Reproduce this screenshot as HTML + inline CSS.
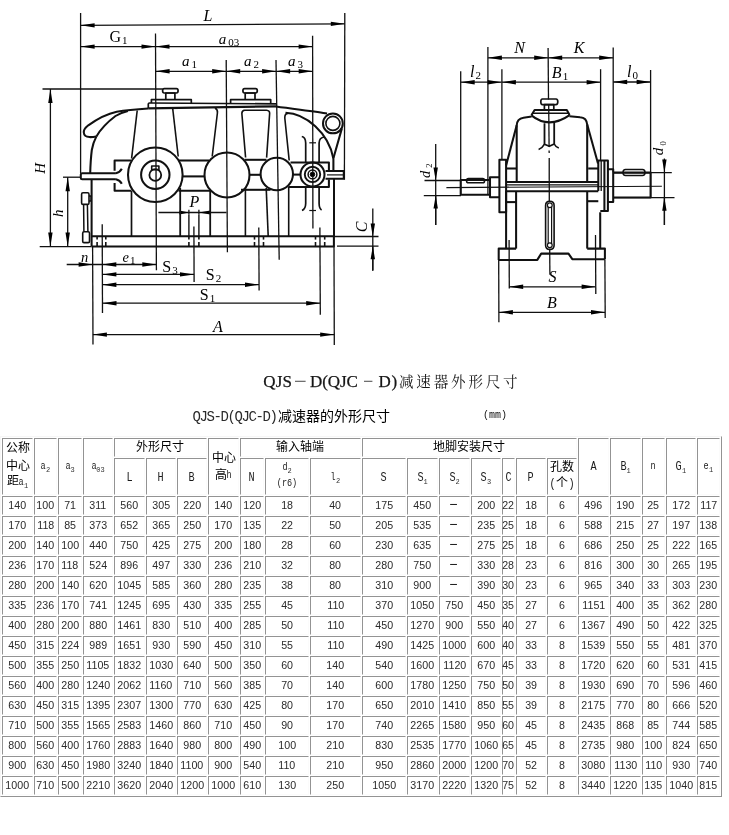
<!DOCTYPE html><html><head><meta charset="utf-8"><title>QJS-D</title><style>
html,body{margin:0;padding:0;background:#fff}
body{width:729px;height:835px;position:relative;overflow:hidden;filter:grayscale(1);font-family:"Liberation Sans",sans-serif;color:#000}
svg{display:block}
.cj{display:inline-block;flex:none}
#dw{position:absolute;left:0;top:0;filter:blur(.35px)}
.tc{position:absolute;left:399.0px;top:373.3px}
.cap{position:absolute;left:192.5px;top:408.5px;display:flex;align-items:baseline;white-space:nowrap;font-family:"Liberation Mono",monospace;font-size:14px;color:#2a2a2a}
.cap i{display:inline-block;width:7px;text-align:center;font-style:normal;overflow:visible}
.cap .cj{margin-left:1px}
.mm{position:absolute;left:483px;top:409.5px;font-family:"Liberation Mono",monospace;font-size:10px;color:#111}
.tb{position:absolute;left:0;top:436px;width:720px;height:359px;border:1px solid #939393;border-top-color:#f6f6f6;border-left-color:#f6f6f6}
.c{position:absolute;border:1px solid #fbfbfb;border-top-color:#939393;border-left-color:#939393;overflow:visible}
.l{position:absolute;left:-10px;right:-10px;height:16px;line-height:16px;display:flex;justify-content:center;align-items:baseline;white-space:nowrap}
.d{font-family:"Liberation Sans",sans-serif;font-size:11px;color:#2a2a2a;display:inline-block;transform:scale(.97,1.04)}
.m{font-family:"Liberation Mono",monospace;font-size:12px;color:#1a1a1a;display:inline-block;transform:scaleX(.85);margin:0 -0.5px}
.lo{font-size:10px}
.sb{font-family:"Liberation Mono",monospace;font-size:7px;color:#333;position:relative;top:3px;letter-spacing:0}
.dash{display:inline-block;width:7px;height:1px;background:#222;vertical-align:4px;margin-right:2.6px}
.cj text{font-family:"Liberation Sans","Noto Sans CJK SC",sans-serif}
.tc .cj text{font-family:"Liberation Serif","Noto Serif CJK SC",serif}
</style></head><body><svg id="dw" width="729" height="360" viewBox="0 0 729 360" fill="none" stroke="#111" stroke-linecap="butt" stroke-linejoin="round"><path d="M80.6 13.0L80.6 173.5" stroke-width="1.3" /><path d="M155.5 33.5L156.4 270.3" stroke-width="1.3" /><path d="M226.2 60.0L227.4 252.2" stroke-width="1.3" /><path d="M276.0 60.0L279.2 259.8" stroke-width="1.3" /><path d="M312.6 35.7L312.9 228.6" stroke-width="1.3" /><path d="M344.8 13.0L344.4 179.8" stroke-width="1.3" /><path d="M80.6 25.3L344.8 23.8" stroke-width="1.3" /><path d="M80.6 25.3L94.6 23.2L94.6 27.6Z" fill="#000" stroke="none"/><path d="M344.8 23.8L330.8 26.1L330.8 21.7Z" fill="#000" stroke="none"/><path d="M80.6 46.6L155.5 46.6" stroke-width="1.3" /><path d="M80.6 46.6L94.6 44.4L94.6 48.8Z" fill="#000" stroke="none"/><path d="M155.5 46.6L141.5 48.8L141.5 44.4Z" fill="#000" stroke="none"/><path d="M155.5 46.6L312.6 46.6" stroke-width="1.3" /><path d="M155.5 46.6L169.5 44.4L169.5 48.8Z" fill="#000" stroke="none"/><path d="M312.6 46.6L298.6 48.8L298.6 44.4Z" fill="#000" stroke="none"/><path d="M155.6 71.3L226.2 71.3" stroke-width="1.3" /><path d="M155.6 71.3L169.6 69.1L169.6 73.5Z" fill="#000" stroke="none"/><path d="M226.2 71.3L212.2 73.5L212.2 69.1Z" fill="#000" stroke="none"/><path d="M226.2 71.3L276.1 71.3" stroke-width="1.3" /><path d="M226.2 71.3L240.2 69.1L240.2 73.5Z" fill="#000" stroke="none"/><path d="M276.1 71.3L262.1 73.5L262.1 69.1Z" fill="#000" stroke="none"/><path d="M276.1 71.3L312.7 71.3" stroke-width="1.3" /><path d="M276.1 71.3L290.1 69.1L290.1 73.5Z" fill="#000" stroke="none"/><path d="M312.7 71.3L298.7 73.5L298.7 69.1Z" fill="#000" stroke="none"/><path d="M42.5 89.0L162.8 89.0" stroke-width="1.3" /><path d="M50.4 89.0L50.4 246.6" stroke-width="1.3" /><path d="M50.4 89.0L52.6 103.0L48.2 103.0Z" fill="#000" stroke="none"/><path d="M50.4 246.6L48.2 232.6L52.6 232.6Z" fill="#000" stroke="none"/><path d="M63.0 177.2L81.0 177.2" stroke-width="1.3" /><path d="M67.7 177.2L67.7 246.6" stroke-width="1.3" /><path d="M67.7 177.2L69.9 191.2L65.5 191.2Z" fill="#000" stroke="none"/><path d="M67.7 246.6L65.5 232.6L69.9 232.6Z" fill="#000" stroke="none"/><path d="M39.7 246.6L91.5 246.6" stroke-width="1.3" /><text x="208.0" y="21.0" text-anchor="middle" font-family="Liberation Serif,serif" font-size="16" font-style="italic" fill="#000" stroke="none">L</text><text x="118.5" y="41.5" text-anchor="middle" font-family="Liberation Serif,serif" font-size="16"  fill="#000" stroke="none">G<tspan font-style="normal" font-size="11" dy="2" dx="1">1</tspan></text><text x="229.0" y="44.0" text-anchor="middle" font-family="Liberation Serif,serif" font-size="15" font-style="italic" fill="#000" stroke="none">a<tspan font-style="normal" font-size="11" dy="2" dx="1.8">03</tspan></text><text x="189.5" y="66.0" text-anchor="middle" font-family="Liberation Serif,serif" font-size="15" font-style="italic" fill="#000" stroke="none">a<tspan font-style="normal" font-size="11" dy="2" dx="1.8">1</tspan></text><text x="251.5" y="66.0" text-anchor="middle" font-family="Liberation Serif,serif" font-size="15" font-style="italic" fill="#000" stroke="none">a<tspan font-style="normal" font-size="11" dy="2" dx="1.8">2</tspan></text><text x="295.5" y="65.5" text-anchor="middle" font-family="Liberation Serif,serif" font-size="15" font-style="italic" fill="#000" stroke="none">a<tspan font-style="normal" font-size="11" dy="2" dx="1.8">3</tspan></text><text x="44.6" y="168.3" text-anchor="middle" font-family="Liberation Serif,serif" font-size="15" font-style="italic" fill="#000" stroke="none" transform="rotate(-90 44.6 168.3)">H</text><text x="62.8" y="213.2" text-anchor="middle" font-family="Liberation Serif,serif" font-size="15" font-style="italic" fill="#000" stroke="none" transform="rotate(-90 62.8 213.2)">h</text><path d="M158.4 212.5L226.5 212.5" stroke-width="1.3" /><path d="M188.9 212.5L179.4 214.6L179.4 210.4Z" fill="#000" stroke="none"/><path d="M198.9 212.5L210.4 210.4L210.4 214.6Z" fill="#000" stroke="none"/><path d="M188.9 209.7L188.9 214.5" stroke-width="1.3" /><path d="M198.9 209.7L198.9 214.5" stroke-width="1.3" /><text x="194.5" y="206.5" text-anchor="middle" font-family="Liberation Serif,serif" font-size="16" font-style="italic" fill="#000" stroke="none">P</text><path d="M92.6 246.6L93.0 344.5" stroke-width="1.3" /><path d="M102.2 224.2L102.5 313.0" stroke-width="1.3" /><path d="M193.9 226.5L194.1 282.0" stroke-width="1.3" /><path d="M258.8 227.4L259.1 290.5" stroke-width="1.3" /><path d="M319.9 227.4L320.3 314.7" stroke-width="1.3" /><path d="M334.0 246.5L334.3 345.0" stroke-width="1.3" /><path d="M66.7 264.5L102.3 264.5" stroke-width="1.3" /><path d="M92.6 264.5L78.6 266.7L78.6 262.3Z" fill="#000" stroke="none"/><path d="M102.3 264.5L156.3 264.5" stroke-width="1.3" /><path d="M102.3 264.5L116.3 262.3L116.3 266.7Z" fill="#000" stroke="none"/><path d="M156.3 264.5L142.3 266.7L142.3 262.3Z" fill="#000" stroke="none"/><path d="M102.4 274.4L194.0 274.4" stroke-width="1.3" /><path d="M102.4 274.4L116.4 272.2L116.4 276.6Z" fill="#000" stroke="none"/><path d="M194.0 274.4L180.0 276.6L180.0 272.2Z" fill="#000" stroke="none"/><path d="M102.4 284.7L259.0 284.7" stroke-width="1.3" /><path d="M102.4 284.7L116.4 282.5L116.4 286.9Z" fill="#000" stroke="none"/><path d="M259.0 284.7L245.0 286.9L245.0 282.5Z" fill="#000" stroke="none"/><path d="M102.5 303.2L320.2 303.2" stroke-width="1.3" /><path d="M102.5 303.2L116.5 301.0L116.5 305.4Z" fill="#000" stroke="none"/><path d="M320.2 303.2L306.2 305.4L306.2 301.0Z" fill="#000" stroke="none"/><path d="M92.9 334.6L334.2 334.6" stroke-width="1.3" /><path d="M92.9 334.6L106.9 332.4L106.9 336.8Z" fill="#000" stroke="none"/><path d="M334.2 334.6L320.2 336.8L320.2 332.4Z" fill="#000" stroke="none"/><text x="84.7" y="261.5" text-anchor="middle" font-family="Liberation Serif,serif" font-size="14.5" font-style="italic" fill="#000" stroke="none">n</text><text x="129.0" y="261.5" text-anchor="middle" font-family="Liberation Serif,serif" font-size="14.5" font-style="italic" fill="#000" stroke="none">e<tspan font-style="normal" font-size="11" dy="2" dx="1">1</tspan></text><text x="170.0" y="271.5" text-anchor="middle" font-family="Liberation Serif,serif" font-size="16"  fill="#000" stroke="none">S<tspan font-style="normal" font-size="11" dy="2" dx="1">3</tspan></text><text x="213.5" y="280.0" text-anchor="middle" font-family="Liberation Serif,serif" font-size="16"  fill="#000" stroke="none">S<tspan font-style="normal" font-size="11" dy="2" dx="1">2</tspan></text><text x="207.5" y="300.0" text-anchor="middle" font-family="Liberation Serif,serif" font-size="16"  fill="#000" stroke="none">S<tspan font-style="normal" font-size="11" dy="2" dx="1">1</tspan></text><text x="218.0" y="331.5" text-anchor="middle" font-family="Liberation Serif,serif" font-size="16" font-style="italic" fill="#000" stroke="none">A</text><path d="M334.0 236.5L378.5 236.5" stroke-width="1.3" /><path d="M337.0 246.2L378.5 246.2" stroke-width="1.3" /><path d="M372.8 208.5L372.8 271.0" stroke-width="1.3" /><path d="M372.8 236.5L370.6 223.5L375.0 223.5Z" fill="#000" stroke="none"/><path d="M372.8 246.2L372.8 270.0" stroke-width="1.3" /><path d="M372.8 246.2L375.0 259.2L370.6 259.2Z" fill="#000" stroke="none"/><text x="366.5" y="227.0" text-anchor="middle" font-family="Liberation Serif,serif" font-size="16" font-style="italic" fill="#000" stroke="none" transform="rotate(-90 366.5 227.0)">C</text><path d="M91.6 236.3H333.9V246.4H91.6" stroke-width="2.05" /><path d="M91.6 179.8V246.4" stroke-width="2.05" /><path d="M97.1 236.5L97.1 239.6" stroke-width="1.6" /><path d="M97.1 242.0L97.1 246.3" stroke-width="1.6" /><path d="M105.8 236.5L105.8 239.6" stroke-width="1.6" /><path d="M105.8 242.0L105.8 246.3" stroke-width="1.6" /><path d="M188.9 236.5L188.9 239.6" stroke-width="1.6" /><path d="M188.9 242.0L188.9 246.3" stroke-width="1.6" /><path d="M198.9 236.5L198.9 239.6" stroke-width="1.6" /><path d="M198.9 242.0L198.9 246.3" stroke-width="1.6" /><path d="M254.5 236.5L254.5 239.6" stroke-width="1.6" /><path d="M254.5 242.0L254.5 246.3" stroke-width="1.6" /><path d="M263.5 236.5L263.5 239.6" stroke-width="1.6" /><path d="M263.5 242.0L263.5 246.3" stroke-width="1.6" /><path d="M315.5 236.5L315.5 239.6" stroke-width="1.6" /><path d="M315.5 242.0L315.5 246.3" stroke-width="1.6" /><path d="M324.7 236.5L324.7 239.6" stroke-width="1.6" /><path d="M324.7 242.0L324.7 246.3" stroke-width="1.6" /><path d="M148.3 108.4C138 109,126 110,116.7 111.7C106 114,95 120.5,88.3 125.3C85.5 127.5,83.6 130,83.8 132.5C84 135.5,86.5 137,89.5 137.1C92 137.2,94.5 136.8,96.4 136.4" stroke-width="2.05" /><path d="M96.4 136.4C99 132,101.5 129,104.4 125.9C108 122,111.5 119,115.5 116C119 113.8,123 112,127.9 110.9" stroke-width="2.05" /><path d="M96.4 136.4C94 141,92.5 146,91.8 150C90.8 158,90.4 166,90.2 173.3" stroke-width="2.05" /><path d="M115.9 173.3H82.2Q80.8 173.3,80.8 174.6V178.0Q80.8 179.3,82.2 179.3H115.9" stroke-width="2.05" /><path d="M115.9 173.3Q120 172.4,121.8 168.8" stroke-width="2.05" /><path d="M115.9 179.3Q120 180.2,121.8 183.8" stroke-width="2.05" /><path d="M131.0 160.5H114.6V170.8M114.6 183V190.8H131.5" stroke-width="2.05" /><path d="M179.0 160.5H209.0" stroke-width="2.05" /><path d="M182.6 176.4H204.5" stroke-width="2.05" /><path d="M178.5 190.8H210.5" stroke-width="2.05" /><path d="M244.5 159.8H266.5" stroke-width="2.05" /><path d="M249.5 174.8H260.5" stroke-width="2.05" /><path d="M241.0 189.8H270.5" stroke-width="2.05" /><path d="M290.5 162.4H328.9V170.6M328.9 179.4V186.9H288.5" stroke-width="2.05" /><path d="M292.8 174.6H301" stroke-width="2.05" /><circle cx="155.3" cy="174.7" r="27.3" stroke-width="2.05" /><circle cx="155.3" cy="174.7" r="14.2" stroke-width="2.05" /><circle cx="155.3" cy="175.0" r="5.9" stroke-width="1.8" /><path d="M151.7 169.8V166H158.9V169.8Z" stroke-width="1.6" /><circle cx="227.0" cy="174.9" r="22.5" stroke-width="2.05" /><circle cx="276.8" cy="174.0" r="16.2" stroke-width="2.05" /><circle cx="312.5" cy="174.4" r="12.0" stroke-width="2.05" /><circle cx="312.5" cy="174.4" r="7.7" stroke-width="1.9" /><circle cx="312.5" cy="174.4" r="4.4" stroke-width="1.5" /><circle cx="312.5" cy="174.4" r="2.3" stroke-width="1" fill="#000"/><path d="M325.5 171H343.8V178.8H325.5" stroke-width="2.05" /><path d="M327.0 174.9L343.8 174.9" stroke-width="1.2" /><path d="M334.0 179V236.3" stroke-width="2.05" /><path d="M148.3 108.4V104Q148.3 103,149.5 103L276.8 103.9" stroke-width="1.7" /><path d="M148.3 108.4L276.8 106.3" stroke-width="2.2" /><path d="M151.4 103V99.7H191.3V103.2" stroke-width="1.7" /><path d="M230.6 103.5V99.7H270.7V103.8" stroke-width="1.7" /><path d="M165.8 99.7V93H174.9V99.7" stroke-width="1.7" /><path d="M164.2 93Q162.6 93,162.6 90.8Q162.6 88.6,164.3 88.6H176.4Q178.1 88.6,178.1 90.8Q178.1 93,176.4 93Z" stroke-width="1.7" /><path d="M245.2 99.7V93H255.0V99.7" stroke-width="1.7" /><path d="M244.5 93Q242.9 93,242.9 90.8Q242.9 88.6,244.6 88.6H255.6Q257.3 88.6,257.3 90.8Q257.3 93,255.6 93Z" stroke-width="1.7" /><path d="M276 106.6C296 109.5,318 111.5,327 113.6" stroke-width="2.05" /><path d="M285.5 112.8C306 113.5,328.5 133,333.3 158.2" stroke-width="2.05" /><circle cx="332.9" cy="123.4" r="9.9" stroke-width="2.05" /><circle cx="332.9" cy="123.4" r="7.0" stroke-width="1.6" /><path d="M341.9 128.4L333.4 158.2V170.8" stroke-width="2.05" /><path d="M137.2 110.5L131.6 158.5" stroke-width="1.6" /><path d="M172.7 108.5L178.2 156.5" stroke-width="1.6" /><path d="M212.2 156.5L217.4 113Q218 109.6,215 108.0" stroke-width="1.6" /><path d="M245.6 157.5L241.9 114Q241.6 110.6,244.6 110.3L266.5 110.3Q270 110.5,269.6 114L266.6 157.6" stroke-width="1.6" /><path d="M289.2 160.5L284.8 118Q284.6 113.6,288 113.4" stroke-width="1.6" /><path d="M131.5 191V236.3" stroke-width="1.7" /><path d="M180.2 188V236.3" stroke-width="1.8" /><path d="M210.2 190.8V236.3" stroke-width="1.8" /><path d="M188.9 214.5L188.9 236.3" stroke-width="1.4" /><path d="M198.9 214.5L198.9 236.3" stroke-width="1.4" /><path d="M245.4 188V236.3" stroke-width="1.6" /><path d="M266.2 188L268.2 236.3" stroke-width="1.6" /><path d="M288.7 186.8V236.3" stroke-width="1.6" /><path d="M301.8 136.5Q305.6 137.3,305.7 143V162M305.7 187.2V203.5Q305.6 209,302 210.5" stroke-width="1.7" /><path d="M324.4 137.0Q319.2 137.6,319.1 143V162M319.1 187.2V203.5Q319.2 208.6,321.6 209.9" stroke-width="1.7" /><path d="M309.3 142.8L316.0 142.8" stroke-width="1.2" /><path d="M309.3 210.5L316.0 210.5" stroke-width="1.2" /><path d="M83.0 192.8H87.6Q89 192.8,89 194.2V203Q89 204.4,87.6 204.4H83Q81.6 204.4,81.6 203V194.2Q81.6 192.8,83 192.8Z" stroke-width="1.6" /><path d="M89 196H91V201H89" stroke-width="1.4" /><path d="M83.6 204.4L83.9 231.8M87.4 204.4L87.9 231.8" stroke-width="1.5" /><path d="M84.0 231.8H88.2Q89.5 231.8,89.5 233.2V241.2Q89.5 242.6,88.2 242.6H84Q82.7 242.6,82.7 241.2V233.2Q82.7 231.8,84 231.8Z" stroke-width="1.6" /><path d="M487.9 47.0L487.9 194.8" stroke-width="1.3" /><path d="M548.1 48.0L548.5 99.5" stroke-width="1.3" /><path d="M548.7 105.0L549.1 147.0" stroke-width="1.3" /><path d="M549.1 150.5L549.2 153.0" stroke-width="1.3" /><path d="M549.2 158.0L549.3 201.2" stroke-width="1.3" /><path d="M549.7 249.4L549.9 274.8" stroke-width="1.3" /><path d="M613.2 47.5L613.2 172.3" stroke-width="1.3" /><path d="M487.9 57.8L548.2 57.8" stroke-width="1.3" /><path d="M487.9 57.8L501.9 55.6L501.9 60.0Z" fill="#000" stroke="none"/><path d="M548.2 57.8L534.2 60.0L534.2 55.6Z" fill="#000" stroke="none"/><path d="M548.2 57.8L613.2 57.8" stroke-width="1.3" /><path d="M548.2 57.8L562.2 55.6L562.2 60.0Z" fill="#000" stroke="none"/><path d="M613.2 57.8L599.2 60.0L599.2 55.6Z" fill="#000" stroke="none"/><path d="M460.7 71.2L460.7 194.8" stroke-width="1.3" /><path d="M501.9 69.2L501.9 160.0" stroke-width="1.3" /><path d="M600.6 69.2L600.6 160.3" stroke-width="1.3" /><path d="M650.6 70.0L650.6 197.3" stroke-width="1.3" /><path d="M460.7 82.2L501.6 82.2" stroke-width="1.3" /><path d="M460.7 82.2L474.7 80.0L474.7 84.4Z" fill="#000" stroke="none"/><path d="M501.6 82.2L487.6 84.4L487.6 80.0Z" fill="#000" stroke="none"/><path d="M501.9 82.2L600.6 82.2" stroke-width="1.3" /><path d="M501.9 82.2L515.9 80.0L515.9 84.4Z" fill="#000" stroke="none"/><path d="M600.6 82.2L586.6 84.4L586.6 80.0Z" fill="#000" stroke="none"/><path d="M613.2 82.0L650.6 82.0" stroke-width="1.3" /><path d="M613.2 82.0L627.2 79.8L627.2 84.2Z" fill="#000" stroke="none"/><path d="M650.6 82.0L636.6 84.2L636.6 79.8Z" fill="#000" stroke="none"/><text x="519.5" y="52.5" text-anchor="middle" font-family="Liberation Serif,serif" font-size="16" font-style="italic" fill="#000" stroke="none">N</text><text x="579.0" y="52.5" text-anchor="middle" font-family="Liberation Serif,serif" font-size="16" font-style="italic" fill="#000" stroke="none">K</text><text x="475.5" y="77.0" text-anchor="middle" font-family="Liberation Serif,serif" font-size="16" font-style="italic" fill="#000" stroke="none">l<tspan font-style="normal" font-size="11" dy="2" dx="1">2</tspan></text><text x="560.0" y="77.5" text-anchor="middle" font-family="Liberation Serif,serif" font-size="16" font-style="italic" fill="#000" stroke="none">B<tspan font-style="normal" font-size="11" dy="2" dx="1">1</tspan></text><text x="632.5" y="77.0" text-anchor="middle" font-family="Liberation Serif,serif" font-size="16" font-style="italic" fill="#000" stroke="none">l<tspan font-style="normal" font-size="11" dy="2" dx="1">0</tspan></text><path d="M424.5 180.5L461.0 180.5" stroke-width="1.3" /><path d="M423.8 195.6L461.0 195.6" stroke-width="1.3" /><path d="M435.7 144.0L435.7 225.0" stroke-width="1.3" /><path d="M435.7 180.5L433.5 167.5L437.9 167.5Z" fill="#000" stroke="none"/><path d="M435.7 195.6L435.7 225.0" stroke-width="1.3" /><path d="M435.7 195.6L437.9 208.6L433.5 208.6Z" fill="#000" stroke="none"/><text x="429.8" y="174.3" text-anchor="middle" font-family="Liberation Serif,serif" font-size="14.5" font-style="italic" fill="#000" stroke="none" transform="rotate(-90 429.8 174.3)">d</text><text x="432.4" y="165.5" text-anchor="middle" font-family="Liberation Serif,serif" font-size="8.5"  fill="#000" stroke="none" transform="rotate(-90 432.4 165.5)">2</text><path d="M613.2 172.6L671.8 172.6" stroke-width="1.3" /><path d="M613.2 197.7L674.5 197.7" stroke-width="1.3" /><path d="M664.4 158.5L664.4 225.0" stroke-width="1.3" /><path d="M664.4 172.6L662.2 159.6L666.6 159.6Z" fill="#000" stroke="none"/><path d="M664.4 197.7L664.4 225.0" stroke-width="1.3" /><path d="M664.4 197.7L666.6 210.7L662.2 210.7Z" fill="#000" stroke="none"/><text x="663.2" y="151.6" text-anchor="middle" font-family="Liberation Serif,serif" font-size="15" font-style="italic" fill="#000" stroke="none" transform="rotate(-90 663.2 151.6)">d</text><text x="665.8" y="143.3" text-anchor="middle" font-family="Liberation Serif,serif" font-size="8.5"  fill="#000" stroke="none" transform="rotate(-90 665.8 143.3)">0</text><path d="M498.7 259.9L498.9 322.3" stroke-width="1.3" /><path d="M604.9 259.9L605.2 318.0" stroke-width="1.3" /><path d="M509.1 239.9L509.3 288.6" stroke-width="1.3" /><path d="M595.5 234.9L595.8 294.0" stroke-width="1.3" /><path d="M509.2 286.8L595.6 286.8" stroke-width="1.3" /><path d="M509.2 286.8L523.2 284.6L523.2 289.0Z" fill="#000" stroke="none"/><path d="M595.6 286.8L581.6 289.0L581.6 284.6Z" fill="#000" stroke="none"/><path d="M498.9 312.3L605.0 312.3" stroke-width="1.3" /><path d="M498.9 312.3L512.9 310.1L512.9 314.5Z" fill="#000" stroke="none"/><path d="M605.0 312.3L591.0 314.5L591.0 310.1Z" fill="#000" stroke="none"/><text x="552.5" y="282.0" text-anchor="middle" font-family="Liberation Serif,serif" font-size="16" font-style="italic" fill="#000" stroke="none">S</text><text x="552.0" y="308.0" text-anchor="middle" font-family="Liberation Serif,serif" font-size="16" font-style="italic" fill="#000" stroke="none">B</text><path d="M446.4 187.6L661.9 186.2" stroke-width="1.1" /><path d="M490 180H460.7V194.8H490" stroke-width="2.05" /><path d="M468.5 178.6H482.6Q484.6 178.6,484.6 180.7Q484.6 182.8,482.6 182.8H468.5Q466.5 182.8,466.5 180.7Q466.5 178.6,468.5 178.6Z" stroke-width="1.5" /><path d="M499.4 177.3H490V197.3H499.4" stroke-width="2.05" /><path d="M499.4 159.8H506.1V212.3H499.4Z" stroke-width="2.05" /><path d="M613.2 172.6H650.6V197.5H613.2" stroke-width="2.05" /><path d="M625.5 169.4H642.5Q645 169.4,645 172.4Q645 175.4,642.5 175.4H625.5Q623 175.4,623 172.4Q623 169.4,625.5 169.4Z" stroke-width="1.5" /><path d="M607.9 169.2H613.2V202.0H607.9" stroke-width="2.05" /><path d="M598.3 191V160.4H607.9V210.9H600.3" stroke-width="2.05" /><path d="M604.4 160.4V210.9" stroke-width="2.05" /><path d="M601.2 160.4L601.2 191.0" stroke-width="1.3" /><path d="M506.1 165.5L516.7 125.2" stroke-width="2.05" /><path d="M598.0 163.5L587.2 124.6" stroke-width="2.05" /><path d="M516.7 182V125.5Q516.9 118.6,523.5 117.7L531.6 116.6" stroke-width="2.05" /><path d="M587.2 182V124.8Q586.8 117.6,580 117.2L569.5 116.2" stroke-width="2.05" /><path d="M506.1 168.5H516.7" stroke-width="2.05" /><path d="M598.3 168.5H588.2" stroke-width="2.05" /><path d="M531.4 115.2L534.6 110H566.8L569.6 115" stroke-width="2.05" /><path d="M532.5 113.3L568.8 113.3" stroke-width="1.4" /><path d="M531.4 115.4Q549 129.5,569.6 115.2" stroke-width="2.05" /><path d="M544.4 110V104.6H553.8V110" stroke-width="1.7" /><path d="M542.4 104.6Q540.8 104.6,540.8 101.8Q540.8 99.0,542.4 99.0H556.0Q557.8 99.0,557.8 101.8Q557.8 104.6,556.0 104.6Z" stroke-width="1.7" /><path d="M544.5 123.3V144.2L549.3 146.3L554.2 144V122.6" stroke-width="1.8" /><path d="M544.5 144.2Q542.5 148,538.6 149.4" stroke-width="1.6" /><path d="M554.2 144Q555.5 146.8,558.8 147.9" stroke-width="1.6" /><path d="M506.1 181.9H598.3" stroke-width="2.05" /><path d="M506.1 191.2H598.3" stroke-width="2.05" /><path d="M506.1 184.9L598.3 184.9" stroke-width="1.2" /><path d="M506.1 191.2V248.6" stroke-width="2.05" /><path d="M516.1 191.2V248.6" stroke-width="2.05" /><path d="M587.2 191.2V248.6" stroke-width="2.05" /><path d="M600.2 212.3V248.6" stroke-width="2.05" /><path d="M587.2 201.2H598.3" stroke-width="2.05" /><path d="M506.1 202.1H516.1" stroke-width="2.05" /><path d="M498.7 259.9V248.6H516.1" stroke-width="2.05" /><path d="M587.2 248.6H604.9V259.5" stroke-width="2.05" /><path d="M498.7 259.9H537.3L541.2 253.6H568.5L572.3 259.2H604.9" stroke-width="2.05" /><path d="M545.6 205.5Q545.6 201.2,549.8 201.2Q554.1 201.2,554.1 205.5V245.2Q554.1 249.4,549.8 249.4Q545.6 249.4,545.6 245.2Z" stroke-width="1.6" /><path d="M548.2 207.0L548.2 243.5" stroke-width="1.2" /><path d="M551.6 207.0L551.6 243.5" stroke-width="1.2" /><circle cx="549.8" cy="205.3" r="2.4" stroke-width="1.2" /><circle cx="549.8" cy="245.2" r="2.4" stroke-width="1.2" /></svg><svg class="title" width="729" height="30" viewBox="0 366 729 30" style="position:absolute;left:0;top:366px;overflow:visible" font-family="Liberation Serif,serif" font-size="17" fill="#161616" stroke="#161616" stroke-width="0.25"><text x="263.2" y="386.6" textLength="28.8" lengthAdjust="spacing">QJS</text><text x="310.1" y="386.6" textLength="47.8" lengthAdjust="spacing">D(QJC</text><text x="378.5" y="386.6" textLength="18.6" lengthAdjust="spacing">D)</text><path d="M295 381.3H305.6" stroke="#555" stroke-width="1.1" fill="none"/><path d="M364 381.3H372.4" stroke="#555" stroke-width="1.1" fill="none"/></svg><div class="tc"><svg class="cj" width="118.70" height="12.85" fill="#161616" style="overflow:visible;"><text x="0" y="12.85" font-size="14.6" letter-spacing="2.75">减速器外形尺寸</text></svg></div><div class="cap"><span class="cm"><i>Q</i><i>J</i><i>S</i><i>-</i><i>D</i><i>(</i><i>Q</i><i>J</i><i>C</i><i>-</i><i>D</i><i>)</i></span><svg class="cj" width="112.00" height="12.32" fill="#000" style="overflow:visible;"><text x="0" y="12.32" font-size="14">减速器的外形尺寸</text></svg></div><div class="mm">(mm)</div><div class="tb"></div><div class="c" style="left:2px;top:438px;width:29px;height:55px"><div class="l" style="top:1.5px"><svg class="cj" width="24.00" height="10.56" fill="#000" style="overflow:visible;"><text x="0" y="10.56" font-size="12">公称</text></svg></div><div class="l" style="top:19.7px"><svg class="cj" width="24.00" height="10.56" fill="#000" style="overflow:visible;"><text x="0" y="10.56" font-size="12">中心</text></svg></div><div class="l" style="top:35.0px"><svg class="cj" width="12.00" height="10.56" fill="#000" style="overflow:visible;"><text x="0" y="10.56" font-size="12">距</text></svg><span class="m lo">a</span><span class="sb">1</span></div></div><div class="c" style="left:34px;top:438px;width:21px;height:55px"><div class="l" style="top:20.0px"><span class="m lo">a</span><span class="sb">2</span></div></div><div class="c" style="left:58px;top:438px;width:22px;height:55px"><div class="l" style="top:20.0px"><span class="m lo">a</span><span class="sb">3</span></div></div><div class="c" style="left:83px;top:438px;width:28px;height:55px"><div class="l" style="top:20.0px"><span class="m lo">a</span><span class="sb">03</span></div></div><div class="c" style="left:114px;top:438px;width:91px;height:17px"><div class="l" style="top:1.0px"><svg class="cj" width="48.00" height="10.56" fill="#000" style="overflow:visible;margin-right:2px"><text x="0" y="10.56" font-size="12">外形尺寸</text></svg></div></div><div class="c" style="left:114px;top:458px;width:29px;height:35px"><div class="l" style="top:11.0px"><span class="m">L</span></div></div><div class="c" style="left:146px;top:458px;width:28px;height:35px"><div class="l" style="top:11.0px"><span class="m">H</span></div></div><div class="c" style="left:177px;top:458px;width:28px;height:35px"><div class="l" style="top:11.0px"><span class="m">B</span></div></div><div class="c" style="left:208px;top:438px;width:29px;height:55px"><div class="l" style="top:11.5px"><svg class="cj" width="24.00" height="10.56" fill="#000" style="overflow:visible;"><text x="0" y="10.56" font-size="12">中心</text></svg></div><div class="l" style="top:28.5px"><svg class="cj" width="12.00" height="10.56" fill="#000" style="overflow:visible;"><text x="0" y="10.56" font-size="12">高</text></svg><span class="m lo">h</span></div></div><div class="c" style="left:240px;top:438px;width:119px;height:17px"><div class="l" style="top:1.0px"><svg class="cj" width="48.00" height="10.56" fill="#000" style="overflow:visible;margin-right:2px"><text x="0" y="10.56" font-size="12">输入轴端</text></svg></div></div><div class="c" style="left:240px;top:458px;width:22px;height:35px"><div class="l" style="top:11.0px"><span class="m">N</span></div></div><div class="c" style="left:265px;top:458px;width:42px;height:35px"><div class="l" style="top:1.0px"><span class="m lo">d</span><span class="sb">2</span></div><div class="l" style="top:16.5px"><span class="m lo">(r6)</span></div></div><div class="c" style="left:310px;top:458px;width:49px;height:35px"><div class="l" style="top:11.0px"><span class="m lo">l</span><span class="sb">2</span></div></div><div class="c" style="left:362px;top:438px;width:213px;height:17px"><div class="l" style="top:1.0px"><svg class="cj" width="72.00" height="10.56" fill="#000" style="overflow:visible;margin-right:2px"><text x="0" y="10.56" font-size="12">地脚安装尺寸</text></svg></div></div><div class="c" style="left:362px;top:458px;width:42px;height:35px"><div class="l" style="top:11.0px"><span class="m">S</span></div></div><div class="c" style="left:407px;top:458px;width:29px;height:35px"><div class="l" style="top:11.0px"><span class="m">S</span><span class="sb">1</span></div></div><div class="c" style="left:439px;top:458px;width:29px;height:35px"><div class="l" style="top:11.0px"><span class="m">S</span><span class="sb">2</span></div></div><div class="c" style="left:471px;top:458px;width:28px;height:35px"><div class="l" style="top:11.0px"><span class="m">S</span><span class="sb">3</span></div></div><div class="c" style="left:502px;top:458px;width:11px;height:35px"><div class="l" style="top:11.0px"><span class="m">C</span></div></div><div class="c" style="left:516px;top:458px;width:28px;height:35px"><div class="l" style="top:11.0px"><span class="m">P</span></div></div><div class="c" style="left:547px;top:458px;width:28px;height:35px"><div class="l" style="top:0.5px"><svg class="cj" width="24.00" height="10.56" fill="#000" style="overflow:visible;"><text x="0" y="10.56" font-size="12">孔数</text></svg></div><div class="l" style="top:16.5px"><span class="m">(</span><svg class="cj" width="12.00" height="10.56" fill="#000" style="overflow:visible;"><text x="0" y="10.56" font-size="12">个</text></svg><span class="m">)</span></div></div><div class="c" style="left:578px;top:438px;width:29px;height:55px"><div class="l" style="top:20.0px"><span class="m">A</span></div></div><div class="c" style="left:610px;top:438px;width:29px;height:55px"><div class="l" style="top:20.0px"><span class="m">B</span><span class="sb">1</span></div></div><div class="c" style="left:642px;top:438px;width:21px;height:55px"><div class="l" style="top:20.0px"><span class="m lo">n</span></div></div><div class="c" style="left:666px;top:438px;width:28px;height:55px"><div class="l" style="top:20.0px"><span class="m">G</span><span class="sb">1</span></div></div><div class="c" style="left:697px;top:438px;width:21px;height:55px"><div class="l" style="top:20.0px"><span class="m lo">e</span><span class="sb">1</span></div></div><div class="c" style="left:2px;top:496px;width:29px;height:17px"><div class="l" style="top:0.0px"><span class="d">140</span></div></div><div class="c" style="left:34px;top:496px;width:21px;height:17px"><div class="l" style="top:0.0px"><span class="d">100</span></div></div><div class="c" style="left:58px;top:496px;width:22px;height:17px"><div class="l" style="top:0.0px"><span class="d">71</span></div></div><div class="c" style="left:83px;top:496px;width:28px;height:17px"><div class="l" style="top:0.0px"><span class="d">311</span></div></div><div class="c" style="left:114px;top:496px;width:29px;height:17px"><div class="l" style="top:0.0px"><span class="d">560</span></div></div><div class="c" style="left:146px;top:496px;width:28px;height:17px"><div class="l" style="top:0.0px"><span class="d">305</span></div></div><div class="c" style="left:177px;top:496px;width:28px;height:17px"><div class="l" style="top:0.0px"><span class="d">220</span></div></div><div class="c" style="left:208px;top:496px;width:29px;height:17px"><div class="l" style="top:0.0px"><span class="d">140</span></div></div><div class="c" style="left:240px;top:496px;width:22px;height:17px"><div class="l" style="top:0.0px"><span class="d">120</span></div></div><div class="c" style="left:265px;top:496px;width:42px;height:17px"><div class="l" style="top:0.0px"><span class="d">18</span></div></div><div class="c" style="left:310px;top:496px;width:49px;height:17px"><div class="l" style="top:0.0px"><span class="d">40</span></div></div><div class="c" style="left:362px;top:496px;width:42px;height:17px"><div class="l" style="top:0.0px"><span class="d">175</span></div></div><div class="c" style="left:407px;top:496px;width:29px;height:17px"><div class="l" style="top:0.0px"><span class="d">450</span></div></div><div class="c" style="left:439px;top:496px;width:29px;height:17px"><div class="l" style="top:0.0px"><span class="d"><span class="dash"></span></span></div></div><div class="c" style="left:471px;top:496px;width:28px;height:17px"><div class="l" style="top:0.0px"><span class="d">200</span></div></div><div class="c" style="left:502px;top:496px;width:11px;height:17px"><div class="l" style="top:0.0px"><span class="d">22</span></div></div><div class="c" style="left:516px;top:496px;width:28px;height:17px"><div class="l" style="top:0.0px"><span class="d">18</span></div></div><div class="c" style="left:547px;top:496px;width:28px;height:17px"><div class="l" style="top:0.0px"><span class="d">6</span></div></div><div class="c" style="left:578px;top:496px;width:29px;height:17px"><div class="l" style="top:0.0px"><span class="d">496</span></div></div><div class="c" style="left:610px;top:496px;width:29px;height:17px"><div class="l" style="top:0.0px"><span class="d">190</span></div></div><div class="c" style="left:642px;top:496px;width:21px;height:17px"><div class="l" style="top:0.0px"><span class="d">25</span></div></div><div class="c" style="left:666px;top:496px;width:28px;height:17px"><div class="l" style="top:0.0px"><span class="d">172</span></div></div><div class="c" style="left:697px;top:496px;width:21px;height:17px"><div class="l" style="top:0.0px"><span class="d">117</span></div></div><div class="c" style="left:2px;top:516px;width:29px;height:17px"><div class="l" style="top:0.0px"><span class="d">170</span></div></div><div class="c" style="left:34px;top:516px;width:21px;height:17px"><div class="l" style="top:0.0px"><span class="d">118</span></div></div><div class="c" style="left:58px;top:516px;width:22px;height:17px"><div class="l" style="top:0.0px"><span class="d">85</span></div></div><div class="c" style="left:83px;top:516px;width:28px;height:17px"><div class="l" style="top:0.0px"><span class="d">373</span></div></div><div class="c" style="left:114px;top:516px;width:29px;height:17px"><div class="l" style="top:0.0px"><span class="d">652</span></div></div><div class="c" style="left:146px;top:516px;width:28px;height:17px"><div class="l" style="top:0.0px"><span class="d">365</span></div></div><div class="c" style="left:177px;top:516px;width:28px;height:17px"><div class="l" style="top:0.0px"><span class="d">250</span></div></div><div class="c" style="left:208px;top:516px;width:29px;height:17px"><div class="l" style="top:0.0px"><span class="d">170</span></div></div><div class="c" style="left:240px;top:516px;width:22px;height:17px"><div class="l" style="top:0.0px"><span class="d">135</span></div></div><div class="c" style="left:265px;top:516px;width:42px;height:17px"><div class="l" style="top:0.0px"><span class="d">22</span></div></div><div class="c" style="left:310px;top:516px;width:49px;height:17px"><div class="l" style="top:0.0px"><span class="d">50</span></div></div><div class="c" style="left:362px;top:516px;width:42px;height:17px"><div class="l" style="top:0.0px"><span class="d">205</span></div></div><div class="c" style="left:407px;top:516px;width:29px;height:17px"><div class="l" style="top:0.0px"><span class="d">535</span></div></div><div class="c" style="left:439px;top:516px;width:29px;height:17px"><div class="l" style="top:0.0px"><span class="d"><span class="dash"></span></span></div></div><div class="c" style="left:471px;top:516px;width:28px;height:17px"><div class="l" style="top:0.0px"><span class="d">235</span></div></div><div class="c" style="left:502px;top:516px;width:11px;height:17px"><div class="l" style="top:0.0px"><span class="d">25</span></div></div><div class="c" style="left:516px;top:516px;width:28px;height:17px"><div class="l" style="top:0.0px"><span class="d">18</span></div></div><div class="c" style="left:547px;top:516px;width:28px;height:17px"><div class="l" style="top:0.0px"><span class="d">6</span></div></div><div class="c" style="left:578px;top:516px;width:29px;height:17px"><div class="l" style="top:0.0px"><span class="d">588</span></div></div><div class="c" style="left:610px;top:516px;width:29px;height:17px"><div class="l" style="top:0.0px"><span class="d">215</span></div></div><div class="c" style="left:642px;top:516px;width:21px;height:17px"><div class="l" style="top:0.0px"><span class="d">27</span></div></div><div class="c" style="left:666px;top:516px;width:28px;height:17px"><div class="l" style="top:0.0px"><span class="d">197</span></div></div><div class="c" style="left:697px;top:516px;width:21px;height:17px"><div class="l" style="top:0.0px"><span class="d">138</span></div></div><div class="c" style="left:2px;top:536px;width:29px;height:17px"><div class="l" style="top:0.0px"><span class="d">200</span></div></div><div class="c" style="left:34px;top:536px;width:21px;height:17px"><div class="l" style="top:0.0px"><span class="d">140</span></div></div><div class="c" style="left:58px;top:536px;width:22px;height:17px"><div class="l" style="top:0.0px"><span class="d">100</span></div></div><div class="c" style="left:83px;top:536px;width:28px;height:17px"><div class="l" style="top:0.0px"><span class="d">440</span></div></div><div class="c" style="left:114px;top:536px;width:29px;height:17px"><div class="l" style="top:0.0px"><span class="d">750</span></div></div><div class="c" style="left:146px;top:536px;width:28px;height:17px"><div class="l" style="top:0.0px"><span class="d">425</span></div></div><div class="c" style="left:177px;top:536px;width:28px;height:17px"><div class="l" style="top:0.0px"><span class="d">275</span></div></div><div class="c" style="left:208px;top:536px;width:29px;height:17px"><div class="l" style="top:0.0px"><span class="d">200</span></div></div><div class="c" style="left:240px;top:536px;width:22px;height:17px"><div class="l" style="top:0.0px"><span class="d">180</span></div></div><div class="c" style="left:265px;top:536px;width:42px;height:17px"><div class="l" style="top:0.0px"><span class="d">28</span></div></div><div class="c" style="left:310px;top:536px;width:49px;height:17px"><div class="l" style="top:0.0px"><span class="d">60</span></div></div><div class="c" style="left:362px;top:536px;width:42px;height:17px"><div class="l" style="top:0.0px"><span class="d">230</span></div></div><div class="c" style="left:407px;top:536px;width:29px;height:17px"><div class="l" style="top:0.0px"><span class="d">635</span></div></div><div class="c" style="left:439px;top:536px;width:29px;height:17px"><div class="l" style="top:0.0px"><span class="d"><span class="dash"></span></span></div></div><div class="c" style="left:471px;top:536px;width:28px;height:17px"><div class="l" style="top:0.0px"><span class="d">275</span></div></div><div class="c" style="left:502px;top:536px;width:11px;height:17px"><div class="l" style="top:0.0px"><span class="d">25</span></div></div><div class="c" style="left:516px;top:536px;width:28px;height:17px"><div class="l" style="top:0.0px"><span class="d">18</span></div></div><div class="c" style="left:547px;top:536px;width:28px;height:17px"><div class="l" style="top:0.0px"><span class="d">6</span></div></div><div class="c" style="left:578px;top:536px;width:29px;height:17px"><div class="l" style="top:0.0px"><span class="d">686</span></div></div><div class="c" style="left:610px;top:536px;width:29px;height:17px"><div class="l" style="top:0.0px"><span class="d">250</span></div></div><div class="c" style="left:642px;top:536px;width:21px;height:17px"><div class="l" style="top:0.0px"><span class="d">25</span></div></div><div class="c" style="left:666px;top:536px;width:28px;height:17px"><div class="l" style="top:0.0px"><span class="d">222</span></div></div><div class="c" style="left:697px;top:536px;width:21px;height:17px"><div class="l" style="top:0.0px"><span class="d">165</span></div></div><div class="c" style="left:2px;top:556px;width:29px;height:17px"><div class="l" style="top:0.0px"><span class="d">236</span></div></div><div class="c" style="left:34px;top:556px;width:21px;height:17px"><div class="l" style="top:0.0px"><span class="d">170</span></div></div><div class="c" style="left:58px;top:556px;width:22px;height:17px"><div class="l" style="top:0.0px"><span class="d">118</span></div></div><div class="c" style="left:83px;top:556px;width:28px;height:17px"><div class="l" style="top:0.0px"><span class="d">524</span></div></div><div class="c" style="left:114px;top:556px;width:29px;height:17px"><div class="l" style="top:0.0px"><span class="d">896</span></div></div><div class="c" style="left:146px;top:556px;width:28px;height:17px"><div class="l" style="top:0.0px"><span class="d">497</span></div></div><div class="c" style="left:177px;top:556px;width:28px;height:17px"><div class="l" style="top:0.0px"><span class="d">330</span></div></div><div class="c" style="left:208px;top:556px;width:29px;height:17px"><div class="l" style="top:0.0px"><span class="d">236</span></div></div><div class="c" style="left:240px;top:556px;width:22px;height:17px"><div class="l" style="top:0.0px"><span class="d">210</span></div></div><div class="c" style="left:265px;top:556px;width:42px;height:17px"><div class="l" style="top:0.0px"><span class="d">32</span></div></div><div class="c" style="left:310px;top:556px;width:49px;height:17px"><div class="l" style="top:0.0px"><span class="d">80</span></div></div><div class="c" style="left:362px;top:556px;width:42px;height:17px"><div class="l" style="top:0.0px"><span class="d">280</span></div></div><div class="c" style="left:407px;top:556px;width:29px;height:17px"><div class="l" style="top:0.0px"><span class="d">750</span></div></div><div class="c" style="left:439px;top:556px;width:29px;height:17px"><div class="l" style="top:0.0px"><span class="d"><span class="dash"></span></span></div></div><div class="c" style="left:471px;top:556px;width:28px;height:17px"><div class="l" style="top:0.0px"><span class="d">330</span></div></div><div class="c" style="left:502px;top:556px;width:11px;height:17px"><div class="l" style="top:0.0px"><span class="d">28</span></div></div><div class="c" style="left:516px;top:556px;width:28px;height:17px"><div class="l" style="top:0.0px"><span class="d">23</span></div></div><div class="c" style="left:547px;top:556px;width:28px;height:17px"><div class="l" style="top:0.0px"><span class="d">6</span></div></div><div class="c" style="left:578px;top:556px;width:29px;height:17px"><div class="l" style="top:0.0px"><span class="d">816</span></div></div><div class="c" style="left:610px;top:556px;width:29px;height:17px"><div class="l" style="top:0.0px"><span class="d">300</span></div></div><div class="c" style="left:642px;top:556px;width:21px;height:17px"><div class="l" style="top:0.0px"><span class="d">30</span></div></div><div class="c" style="left:666px;top:556px;width:28px;height:17px"><div class="l" style="top:0.0px"><span class="d">265</span></div></div><div class="c" style="left:697px;top:556px;width:21px;height:17px"><div class="l" style="top:0.0px"><span class="d">195</span></div></div><div class="c" style="left:2px;top:576px;width:29px;height:17px"><div class="l" style="top:0.0px"><span class="d">280</span></div></div><div class="c" style="left:34px;top:576px;width:21px;height:17px"><div class="l" style="top:0.0px"><span class="d">200</span></div></div><div class="c" style="left:58px;top:576px;width:22px;height:17px"><div class="l" style="top:0.0px"><span class="d">140</span></div></div><div class="c" style="left:83px;top:576px;width:28px;height:17px"><div class="l" style="top:0.0px"><span class="d">620</span></div></div><div class="c" style="left:114px;top:576px;width:29px;height:17px"><div class="l" style="top:0.0px"><span class="d">1045</span></div></div><div class="c" style="left:146px;top:576px;width:28px;height:17px"><div class="l" style="top:0.0px"><span class="d">585</span></div></div><div class="c" style="left:177px;top:576px;width:28px;height:17px"><div class="l" style="top:0.0px"><span class="d">360</span></div></div><div class="c" style="left:208px;top:576px;width:29px;height:17px"><div class="l" style="top:0.0px"><span class="d">280</span></div></div><div class="c" style="left:240px;top:576px;width:22px;height:17px"><div class="l" style="top:0.0px"><span class="d">235</span></div></div><div class="c" style="left:265px;top:576px;width:42px;height:17px"><div class="l" style="top:0.0px"><span class="d">38</span></div></div><div class="c" style="left:310px;top:576px;width:49px;height:17px"><div class="l" style="top:0.0px"><span class="d">80</span></div></div><div class="c" style="left:362px;top:576px;width:42px;height:17px"><div class="l" style="top:0.0px"><span class="d">310</span></div></div><div class="c" style="left:407px;top:576px;width:29px;height:17px"><div class="l" style="top:0.0px"><span class="d">900</span></div></div><div class="c" style="left:439px;top:576px;width:29px;height:17px"><div class="l" style="top:0.0px"><span class="d"><span class="dash"></span></span></div></div><div class="c" style="left:471px;top:576px;width:28px;height:17px"><div class="l" style="top:0.0px"><span class="d">390</span></div></div><div class="c" style="left:502px;top:576px;width:11px;height:17px"><div class="l" style="top:0.0px"><span class="d">30</span></div></div><div class="c" style="left:516px;top:576px;width:28px;height:17px"><div class="l" style="top:0.0px"><span class="d">23</span></div></div><div class="c" style="left:547px;top:576px;width:28px;height:17px"><div class="l" style="top:0.0px"><span class="d">6</span></div></div><div class="c" style="left:578px;top:576px;width:29px;height:17px"><div class="l" style="top:0.0px"><span class="d">965</span></div></div><div class="c" style="left:610px;top:576px;width:29px;height:17px"><div class="l" style="top:0.0px"><span class="d">340</span></div></div><div class="c" style="left:642px;top:576px;width:21px;height:17px"><div class="l" style="top:0.0px"><span class="d">33</span></div></div><div class="c" style="left:666px;top:576px;width:28px;height:17px"><div class="l" style="top:0.0px"><span class="d">303</span></div></div><div class="c" style="left:697px;top:576px;width:21px;height:17px"><div class="l" style="top:0.0px"><span class="d">230</span></div></div><div class="c" style="left:2px;top:596px;width:29px;height:17px"><div class="l" style="top:0.0px"><span class="d">335</span></div></div><div class="c" style="left:34px;top:596px;width:21px;height:17px"><div class="l" style="top:0.0px"><span class="d">236</span></div></div><div class="c" style="left:58px;top:596px;width:22px;height:17px"><div class="l" style="top:0.0px"><span class="d">170</span></div></div><div class="c" style="left:83px;top:596px;width:28px;height:17px"><div class="l" style="top:0.0px"><span class="d">741</span></div></div><div class="c" style="left:114px;top:596px;width:29px;height:17px"><div class="l" style="top:0.0px"><span class="d">1245</span></div></div><div class="c" style="left:146px;top:596px;width:28px;height:17px"><div class="l" style="top:0.0px"><span class="d">695</span></div></div><div class="c" style="left:177px;top:596px;width:28px;height:17px"><div class="l" style="top:0.0px"><span class="d">430</span></div></div><div class="c" style="left:208px;top:596px;width:29px;height:17px"><div class="l" style="top:0.0px"><span class="d">335</span></div></div><div class="c" style="left:240px;top:596px;width:22px;height:17px"><div class="l" style="top:0.0px"><span class="d">255</span></div></div><div class="c" style="left:265px;top:596px;width:42px;height:17px"><div class="l" style="top:0.0px"><span class="d">45</span></div></div><div class="c" style="left:310px;top:596px;width:49px;height:17px"><div class="l" style="top:0.0px"><span class="d">110</span></div></div><div class="c" style="left:362px;top:596px;width:42px;height:17px"><div class="l" style="top:0.0px"><span class="d">370</span></div></div><div class="c" style="left:407px;top:596px;width:29px;height:17px"><div class="l" style="top:0.0px"><span class="d">1050</span></div></div><div class="c" style="left:439px;top:596px;width:29px;height:17px"><div class="l" style="top:0.0px"><span class="d">750</span></div></div><div class="c" style="left:471px;top:596px;width:28px;height:17px"><div class="l" style="top:0.0px"><span class="d">450</span></div></div><div class="c" style="left:502px;top:596px;width:11px;height:17px"><div class="l" style="top:0.0px"><span class="d">35</span></div></div><div class="c" style="left:516px;top:596px;width:28px;height:17px"><div class="l" style="top:0.0px"><span class="d">27</span></div></div><div class="c" style="left:547px;top:596px;width:28px;height:17px"><div class="l" style="top:0.0px"><span class="d">6</span></div></div><div class="c" style="left:578px;top:596px;width:29px;height:17px"><div class="l" style="top:0.0px"><span class="d">1151</span></div></div><div class="c" style="left:610px;top:596px;width:29px;height:17px"><div class="l" style="top:0.0px"><span class="d">400</span></div></div><div class="c" style="left:642px;top:596px;width:21px;height:17px"><div class="l" style="top:0.0px"><span class="d">35</span></div></div><div class="c" style="left:666px;top:596px;width:28px;height:17px"><div class="l" style="top:0.0px"><span class="d">362</span></div></div><div class="c" style="left:697px;top:596px;width:21px;height:17px"><div class="l" style="top:0.0px"><span class="d">280</span></div></div><div class="c" style="left:2px;top:616px;width:29px;height:17px"><div class="l" style="top:0.0px"><span class="d">400</span></div></div><div class="c" style="left:34px;top:616px;width:21px;height:17px"><div class="l" style="top:0.0px"><span class="d">280</span></div></div><div class="c" style="left:58px;top:616px;width:22px;height:17px"><div class="l" style="top:0.0px"><span class="d">200</span></div></div><div class="c" style="left:83px;top:616px;width:28px;height:17px"><div class="l" style="top:0.0px"><span class="d">880</span></div></div><div class="c" style="left:114px;top:616px;width:29px;height:17px"><div class="l" style="top:0.0px"><span class="d">1461</span></div></div><div class="c" style="left:146px;top:616px;width:28px;height:17px"><div class="l" style="top:0.0px"><span class="d">830</span></div></div><div class="c" style="left:177px;top:616px;width:28px;height:17px"><div class="l" style="top:0.0px"><span class="d">510</span></div></div><div class="c" style="left:208px;top:616px;width:29px;height:17px"><div class="l" style="top:0.0px"><span class="d">400</span></div></div><div class="c" style="left:240px;top:616px;width:22px;height:17px"><div class="l" style="top:0.0px"><span class="d">285</span></div></div><div class="c" style="left:265px;top:616px;width:42px;height:17px"><div class="l" style="top:0.0px"><span class="d">50</span></div></div><div class="c" style="left:310px;top:616px;width:49px;height:17px"><div class="l" style="top:0.0px"><span class="d">110</span></div></div><div class="c" style="left:362px;top:616px;width:42px;height:17px"><div class="l" style="top:0.0px"><span class="d">450</span></div></div><div class="c" style="left:407px;top:616px;width:29px;height:17px"><div class="l" style="top:0.0px"><span class="d">1270</span></div></div><div class="c" style="left:439px;top:616px;width:29px;height:17px"><div class="l" style="top:0.0px"><span class="d">900</span></div></div><div class="c" style="left:471px;top:616px;width:28px;height:17px"><div class="l" style="top:0.0px"><span class="d">550</span></div></div><div class="c" style="left:502px;top:616px;width:11px;height:17px"><div class="l" style="top:0.0px"><span class="d">40</span></div></div><div class="c" style="left:516px;top:616px;width:28px;height:17px"><div class="l" style="top:0.0px"><span class="d">27</span></div></div><div class="c" style="left:547px;top:616px;width:28px;height:17px"><div class="l" style="top:0.0px"><span class="d">6</span></div></div><div class="c" style="left:578px;top:616px;width:29px;height:17px"><div class="l" style="top:0.0px"><span class="d">1367</span></div></div><div class="c" style="left:610px;top:616px;width:29px;height:17px"><div class="l" style="top:0.0px"><span class="d">490</span></div></div><div class="c" style="left:642px;top:616px;width:21px;height:17px"><div class="l" style="top:0.0px"><span class="d">50</span></div></div><div class="c" style="left:666px;top:616px;width:28px;height:17px"><div class="l" style="top:0.0px"><span class="d">422</span></div></div><div class="c" style="left:697px;top:616px;width:21px;height:17px"><div class="l" style="top:0.0px"><span class="d">325</span></div></div><div class="c" style="left:2px;top:636px;width:29px;height:17px"><div class="l" style="top:0.0px"><span class="d">450</span></div></div><div class="c" style="left:34px;top:636px;width:21px;height:17px"><div class="l" style="top:0.0px"><span class="d">315</span></div></div><div class="c" style="left:58px;top:636px;width:22px;height:17px"><div class="l" style="top:0.0px"><span class="d">224</span></div></div><div class="c" style="left:83px;top:636px;width:28px;height:17px"><div class="l" style="top:0.0px"><span class="d">989</span></div></div><div class="c" style="left:114px;top:636px;width:29px;height:17px"><div class="l" style="top:0.0px"><span class="d">1651</span></div></div><div class="c" style="left:146px;top:636px;width:28px;height:17px"><div class="l" style="top:0.0px"><span class="d">930</span></div></div><div class="c" style="left:177px;top:636px;width:28px;height:17px"><div class="l" style="top:0.0px"><span class="d">590</span></div></div><div class="c" style="left:208px;top:636px;width:29px;height:17px"><div class="l" style="top:0.0px"><span class="d">450</span></div></div><div class="c" style="left:240px;top:636px;width:22px;height:17px"><div class="l" style="top:0.0px"><span class="d">310</span></div></div><div class="c" style="left:265px;top:636px;width:42px;height:17px"><div class="l" style="top:0.0px"><span class="d">55</span></div></div><div class="c" style="left:310px;top:636px;width:49px;height:17px"><div class="l" style="top:0.0px"><span class="d">110</span></div></div><div class="c" style="left:362px;top:636px;width:42px;height:17px"><div class="l" style="top:0.0px"><span class="d">490</span></div></div><div class="c" style="left:407px;top:636px;width:29px;height:17px"><div class="l" style="top:0.0px"><span class="d">1425</span></div></div><div class="c" style="left:439px;top:636px;width:29px;height:17px"><div class="l" style="top:0.0px"><span class="d">1000</span></div></div><div class="c" style="left:471px;top:636px;width:28px;height:17px"><div class="l" style="top:0.0px"><span class="d">600</span></div></div><div class="c" style="left:502px;top:636px;width:11px;height:17px"><div class="l" style="top:0.0px"><span class="d">40</span></div></div><div class="c" style="left:516px;top:636px;width:28px;height:17px"><div class="l" style="top:0.0px"><span class="d">33</span></div></div><div class="c" style="left:547px;top:636px;width:28px;height:17px"><div class="l" style="top:0.0px"><span class="d">8</span></div></div><div class="c" style="left:578px;top:636px;width:29px;height:17px"><div class="l" style="top:0.0px"><span class="d">1539</span></div></div><div class="c" style="left:610px;top:636px;width:29px;height:17px"><div class="l" style="top:0.0px"><span class="d">550</span></div></div><div class="c" style="left:642px;top:636px;width:21px;height:17px"><div class="l" style="top:0.0px"><span class="d">55</span></div></div><div class="c" style="left:666px;top:636px;width:28px;height:17px"><div class="l" style="top:0.0px"><span class="d">481</span></div></div><div class="c" style="left:697px;top:636px;width:21px;height:17px"><div class="l" style="top:0.0px"><span class="d">370</span></div></div><div class="c" style="left:2px;top:656px;width:29px;height:17px"><div class="l" style="top:0.0px"><span class="d">500</span></div></div><div class="c" style="left:34px;top:656px;width:21px;height:17px"><div class="l" style="top:0.0px"><span class="d">355</span></div></div><div class="c" style="left:58px;top:656px;width:22px;height:17px"><div class="l" style="top:0.0px"><span class="d">250</span></div></div><div class="c" style="left:83px;top:656px;width:28px;height:17px"><div class="l" style="top:0.0px"><span class="d">1105</span></div></div><div class="c" style="left:114px;top:656px;width:29px;height:17px"><div class="l" style="top:0.0px"><span class="d">1832</span></div></div><div class="c" style="left:146px;top:656px;width:28px;height:17px"><div class="l" style="top:0.0px"><span class="d">1030</span></div></div><div class="c" style="left:177px;top:656px;width:28px;height:17px"><div class="l" style="top:0.0px"><span class="d">640</span></div></div><div class="c" style="left:208px;top:656px;width:29px;height:17px"><div class="l" style="top:0.0px"><span class="d">500</span></div></div><div class="c" style="left:240px;top:656px;width:22px;height:17px"><div class="l" style="top:0.0px"><span class="d">350</span></div></div><div class="c" style="left:265px;top:656px;width:42px;height:17px"><div class="l" style="top:0.0px"><span class="d">60</span></div></div><div class="c" style="left:310px;top:656px;width:49px;height:17px"><div class="l" style="top:0.0px"><span class="d">140</span></div></div><div class="c" style="left:362px;top:656px;width:42px;height:17px"><div class="l" style="top:0.0px"><span class="d">540</span></div></div><div class="c" style="left:407px;top:656px;width:29px;height:17px"><div class="l" style="top:0.0px"><span class="d">1600</span></div></div><div class="c" style="left:439px;top:656px;width:29px;height:17px"><div class="l" style="top:0.0px"><span class="d">1120</span></div></div><div class="c" style="left:471px;top:656px;width:28px;height:17px"><div class="l" style="top:0.0px"><span class="d">670</span></div></div><div class="c" style="left:502px;top:656px;width:11px;height:17px"><div class="l" style="top:0.0px"><span class="d">45</span></div></div><div class="c" style="left:516px;top:656px;width:28px;height:17px"><div class="l" style="top:0.0px"><span class="d">33</span></div></div><div class="c" style="left:547px;top:656px;width:28px;height:17px"><div class="l" style="top:0.0px"><span class="d">8</span></div></div><div class="c" style="left:578px;top:656px;width:29px;height:17px"><div class="l" style="top:0.0px"><span class="d">1720</span></div></div><div class="c" style="left:610px;top:656px;width:29px;height:17px"><div class="l" style="top:0.0px"><span class="d">620</span></div></div><div class="c" style="left:642px;top:656px;width:21px;height:17px"><div class="l" style="top:0.0px"><span class="d">60</span></div></div><div class="c" style="left:666px;top:656px;width:28px;height:17px"><div class="l" style="top:0.0px"><span class="d">531</span></div></div><div class="c" style="left:697px;top:656px;width:21px;height:17px"><div class="l" style="top:0.0px"><span class="d">415</span></div></div><div class="c" style="left:2px;top:676px;width:29px;height:17px"><div class="l" style="top:0.0px"><span class="d">560</span></div></div><div class="c" style="left:34px;top:676px;width:21px;height:17px"><div class="l" style="top:0.0px"><span class="d">400</span></div></div><div class="c" style="left:58px;top:676px;width:22px;height:17px"><div class="l" style="top:0.0px"><span class="d">280</span></div></div><div class="c" style="left:83px;top:676px;width:28px;height:17px"><div class="l" style="top:0.0px"><span class="d">1240</span></div></div><div class="c" style="left:114px;top:676px;width:29px;height:17px"><div class="l" style="top:0.0px"><span class="d">2062</span></div></div><div class="c" style="left:146px;top:676px;width:28px;height:17px"><div class="l" style="top:0.0px"><span class="d">1160</span></div></div><div class="c" style="left:177px;top:676px;width:28px;height:17px"><div class="l" style="top:0.0px"><span class="d">710</span></div></div><div class="c" style="left:208px;top:676px;width:29px;height:17px"><div class="l" style="top:0.0px"><span class="d">560</span></div></div><div class="c" style="left:240px;top:676px;width:22px;height:17px"><div class="l" style="top:0.0px"><span class="d">385</span></div></div><div class="c" style="left:265px;top:676px;width:42px;height:17px"><div class="l" style="top:0.0px"><span class="d">70</span></div></div><div class="c" style="left:310px;top:676px;width:49px;height:17px"><div class="l" style="top:0.0px"><span class="d">140</span></div></div><div class="c" style="left:362px;top:676px;width:42px;height:17px"><div class="l" style="top:0.0px"><span class="d">600</span></div></div><div class="c" style="left:407px;top:676px;width:29px;height:17px"><div class="l" style="top:0.0px"><span class="d">1780</span></div></div><div class="c" style="left:439px;top:676px;width:29px;height:17px"><div class="l" style="top:0.0px"><span class="d">1250</span></div></div><div class="c" style="left:471px;top:676px;width:28px;height:17px"><div class="l" style="top:0.0px"><span class="d">750</span></div></div><div class="c" style="left:502px;top:676px;width:11px;height:17px"><div class="l" style="top:0.0px"><span class="d">50</span></div></div><div class="c" style="left:516px;top:676px;width:28px;height:17px"><div class="l" style="top:0.0px"><span class="d">39</span></div></div><div class="c" style="left:547px;top:676px;width:28px;height:17px"><div class="l" style="top:0.0px"><span class="d">8</span></div></div><div class="c" style="left:578px;top:676px;width:29px;height:17px"><div class="l" style="top:0.0px"><span class="d">1930</span></div></div><div class="c" style="left:610px;top:676px;width:29px;height:17px"><div class="l" style="top:0.0px"><span class="d">690</span></div></div><div class="c" style="left:642px;top:676px;width:21px;height:17px"><div class="l" style="top:0.0px"><span class="d">70</span></div></div><div class="c" style="left:666px;top:676px;width:28px;height:17px"><div class="l" style="top:0.0px"><span class="d">596</span></div></div><div class="c" style="left:697px;top:676px;width:21px;height:17px"><div class="l" style="top:0.0px"><span class="d">460</span></div></div><div class="c" style="left:2px;top:696px;width:29px;height:17px"><div class="l" style="top:0.0px"><span class="d">630</span></div></div><div class="c" style="left:34px;top:696px;width:21px;height:17px"><div class="l" style="top:0.0px"><span class="d">450</span></div></div><div class="c" style="left:58px;top:696px;width:22px;height:17px"><div class="l" style="top:0.0px"><span class="d">315</span></div></div><div class="c" style="left:83px;top:696px;width:28px;height:17px"><div class="l" style="top:0.0px"><span class="d">1395</span></div></div><div class="c" style="left:114px;top:696px;width:29px;height:17px"><div class="l" style="top:0.0px"><span class="d">2307</span></div></div><div class="c" style="left:146px;top:696px;width:28px;height:17px"><div class="l" style="top:0.0px"><span class="d">1300</span></div></div><div class="c" style="left:177px;top:696px;width:28px;height:17px"><div class="l" style="top:0.0px"><span class="d">770</span></div></div><div class="c" style="left:208px;top:696px;width:29px;height:17px"><div class="l" style="top:0.0px"><span class="d">630</span></div></div><div class="c" style="left:240px;top:696px;width:22px;height:17px"><div class="l" style="top:0.0px"><span class="d">425</span></div></div><div class="c" style="left:265px;top:696px;width:42px;height:17px"><div class="l" style="top:0.0px"><span class="d">80</span></div></div><div class="c" style="left:310px;top:696px;width:49px;height:17px"><div class="l" style="top:0.0px"><span class="d">170</span></div></div><div class="c" style="left:362px;top:696px;width:42px;height:17px"><div class="l" style="top:0.0px"><span class="d">650</span></div></div><div class="c" style="left:407px;top:696px;width:29px;height:17px"><div class="l" style="top:0.0px"><span class="d">2010</span></div></div><div class="c" style="left:439px;top:696px;width:29px;height:17px"><div class="l" style="top:0.0px"><span class="d">1410</span></div></div><div class="c" style="left:471px;top:696px;width:28px;height:17px"><div class="l" style="top:0.0px"><span class="d">850</span></div></div><div class="c" style="left:502px;top:696px;width:11px;height:17px"><div class="l" style="top:0.0px"><span class="d">55</span></div></div><div class="c" style="left:516px;top:696px;width:28px;height:17px"><div class="l" style="top:0.0px"><span class="d">39</span></div></div><div class="c" style="left:547px;top:696px;width:28px;height:17px"><div class="l" style="top:0.0px"><span class="d">8</span></div></div><div class="c" style="left:578px;top:696px;width:29px;height:17px"><div class="l" style="top:0.0px"><span class="d">2175</span></div></div><div class="c" style="left:610px;top:696px;width:29px;height:17px"><div class="l" style="top:0.0px"><span class="d">770</span></div></div><div class="c" style="left:642px;top:696px;width:21px;height:17px"><div class="l" style="top:0.0px"><span class="d">80</span></div></div><div class="c" style="left:666px;top:696px;width:28px;height:17px"><div class="l" style="top:0.0px"><span class="d">666</span></div></div><div class="c" style="left:697px;top:696px;width:21px;height:17px"><div class="l" style="top:0.0px"><span class="d">520</span></div></div><div class="c" style="left:2px;top:716px;width:29px;height:17px"><div class="l" style="top:0.0px"><span class="d">710</span></div></div><div class="c" style="left:34px;top:716px;width:21px;height:17px"><div class="l" style="top:0.0px"><span class="d">500</span></div></div><div class="c" style="left:58px;top:716px;width:22px;height:17px"><div class="l" style="top:0.0px"><span class="d">355</span></div></div><div class="c" style="left:83px;top:716px;width:28px;height:17px"><div class="l" style="top:0.0px"><span class="d">1565</span></div></div><div class="c" style="left:114px;top:716px;width:29px;height:17px"><div class="l" style="top:0.0px"><span class="d">2583</span></div></div><div class="c" style="left:146px;top:716px;width:28px;height:17px"><div class="l" style="top:0.0px"><span class="d">1460</span></div></div><div class="c" style="left:177px;top:716px;width:28px;height:17px"><div class="l" style="top:0.0px"><span class="d">860</span></div></div><div class="c" style="left:208px;top:716px;width:29px;height:17px"><div class="l" style="top:0.0px"><span class="d">710</span></div></div><div class="c" style="left:240px;top:716px;width:22px;height:17px"><div class="l" style="top:0.0px"><span class="d">450</span></div></div><div class="c" style="left:265px;top:716px;width:42px;height:17px"><div class="l" style="top:0.0px"><span class="d">90</span></div></div><div class="c" style="left:310px;top:716px;width:49px;height:17px"><div class="l" style="top:0.0px"><span class="d">170</span></div></div><div class="c" style="left:362px;top:716px;width:42px;height:17px"><div class="l" style="top:0.0px"><span class="d">740</span></div></div><div class="c" style="left:407px;top:716px;width:29px;height:17px"><div class="l" style="top:0.0px"><span class="d">2265</span></div></div><div class="c" style="left:439px;top:716px;width:29px;height:17px"><div class="l" style="top:0.0px"><span class="d">1580</span></div></div><div class="c" style="left:471px;top:716px;width:28px;height:17px"><div class="l" style="top:0.0px"><span class="d">950</span></div></div><div class="c" style="left:502px;top:716px;width:11px;height:17px"><div class="l" style="top:0.0px"><span class="d">60</span></div></div><div class="c" style="left:516px;top:716px;width:28px;height:17px"><div class="l" style="top:0.0px"><span class="d">45</span></div></div><div class="c" style="left:547px;top:716px;width:28px;height:17px"><div class="l" style="top:0.0px"><span class="d">8</span></div></div><div class="c" style="left:578px;top:716px;width:29px;height:17px"><div class="l" style="top:0.0px"><span class="d">2435</span></div></div><div class="c" style="left:610px;top:716px;width:29px;height:17px"><div class="l" style="top:0.0px"><span class="d">868</span></div></div><div class="c" style="left:642px;top:716px;width:21px;height:17px"><div class="l" style="top:0.0px"><span class="d">85</span></div></div><div class="c" style="left:666px;top:716px;width:28px;height:17px"><div class="l" style="top:0.0px"><span class="d">744</span></div></div><div class="c" style="left:697px;top:716px;width:21px;height:17px"><div class="l" style="top:0.0px"><span class="d">585</span></div></div><div class="c" style="left:2px;top:736px;width:29px;height:17px"><div class="l" style="top:0.0px"><span class="d">800</span></div></div><div class="c" style="left:34px;top:736px;width:21px;height:17px"><div class="l" style="top:0.0px"><span class="d">560</span></div></div><div class="c" style="left:58px;top:736px;width:22px;height:17px"><div class="l" style="top:0.0px"><span class="d">400</span></div></div><div class="c" style="left:83px;top:736px;width:28px;height:17px"><div class="l" style="top:0.0px"><span class="d">1760</span></div></div><div class="c" style="left:114px;top:736px;width:29px;height:17px"><div class="l" style="top:0.0px"><span class="d">2883</span></div></div><div class="c" style="left:146px;top:736px;width:28px;height:17px"><div class="l" style="top:0.0px"><span class="d">1640</span></div></div><div class="c" style="left:177px;top:736px;width:28px;height:17px"><div class="l" style="top:0.0px"><span class="d">980</span></div></div><div class="c" style="left:208px;top:736px;width:29px;height:17px"><div class="l" style="top:0.0px"><span class="d">800</span></div></div><div class="c" style="left:240px;top:736px;width:22px;height:17px"><div class="l" style="top:0.0px"><span class="d">490</span></div></div><div class="c" style="left:265px;top:736px;width:42px;height:17px"><div class="l" style="top:0.0px"><span class="d">100</span></div></div><div class="c" style="left:310px;top:736px;width:49px;height:17px"><div class="l" style="top:0.0px"><span class="d">210</span></div></div><div class="c" style="left:362px;top:736px;width:42px;height:17px"><div class="l" style="top:0.0px"><span class="d">830</span></div></div><div class="c" style="left:407px;top:736px;width:29px;height:17px"><div class="l" style="top:0.0px"><span class="d">2535</span></div></div><div class="c" style="left:439px;top:736px;width:29px;height:17px"><div class="l" style="top:0.0px"><span class="d">1770</span></div></div><div class="c" style="left:471px;top:736px;width:28px;height:17px"><div class="l" style="top:0.0px"><span class="d">1060</span></div></div><div class="c" style="left:502px;top:736px;width:11px;height:17px"><div class="l" style="top:0.0px"><span class="d">65</span></div></div><div class="c" style="left:516px;top:736px;width:28px;height:17px"><div class="l" style="top:0.0px"><span class="d">45</span></div></div><div class="c" style="left:547px;top:736px;width:28px;height:17px"><div class="l" style="top:0.0px"><span class="d">8</span></div></div><div class="c" style="left:578px;top:736px;width:29px;height:17px"><div class="l" style="top:0.0px"><span class="d">2735</span></div></div><div class="c" style="left:610px;top:736px;width:29px;height:17px"><div class="l" style="top:0.0px"><span class="d">980</span></div></div><div class="c" style="left:642px;top:736px;width:21px;height:17px"><div class="l" style="top:0.0px"><span class="d">100</span></div></div><div class="c" style="left:666px;top:736px;width:28px;height:17px"><div class="l" style="top:0.0px"><span class="d">824</span></div></div><div class="c" style="left:697px;top:736px;width:21px;height:17px"><div class="l" style="top:0.0px"><span class="d">650</span></div></div><div class="c" style="left:2px;top:756px;width:29px;height:17px"><div class="l" style="top:0.0px"><span class="d">900</span></div></div><div class="c" style="left:34px;top:756px;width:21px;height:17px"><div class="l" style="top:0.0px"><span class="d">630</span></div></div><div class="c" style="left:58px;top:756px;width:22px;height:17px"><div class="l" style="top:0.0px"><span class="d">450</span></div></div><div class="c" style="left:83px;top:756px;width:28px;height:17px"><div class="l" style="top:0.0px"><span class="d">1980</span></div></div><div class="c" style="left:114px;top:756px;width:29px;height:17px"><div class="l" style="top:0.0px"><span class="d">3240</span></div></div><div class="c" style="left:146px;top:756px;width:28px;height:17px"><div class="l" style="top:0.0px"><span class="d">1840</span></div></div><div class="c" style="left:177px;top:756px;width:28px;height:17px"><div class="l" style="top:0.0px"><span class="d">1100</span></div></div><div class="c" style="left:208px;top:756px;width:29px;height:17px"><div class="l" style="top:0.0px"><span class="d">900</span></div></div><div class="c" style="left:240px;top:756px;width:22px;height:17px"><div class="l" style="top:0.0px"><span class="d">540</span></div></div><div class="c" style="left:265px;top:756px;width:42px;height:17px"><div class="l" style="top:0.0px"><span class="d">110</span></div></div><div class="c" style="left:310px;top:756px;width:49px;height:17px"><div class="l" style="top:0.0px"><span class="d">210</span></div></div><div class="c" style="left:362px;top:756px;width:42px;height:17px"><div class="l" style="top:0.0px"><span class="d">950</span></div></div><div class="c" style="left:407px;top:756px;width:29px;height:17px"><div class="l" style="top:0.0px"><span class="d">2860</span></div></div><div class="c" style="left:439px;top:756px;width:29px;height:17px"><div class="l" style="top:0.0px"><span class="d">2000</span></div></div><div class="c" style="left:471px;top:756px;width:28px;height:17px"><div class="l" style="top:0.0px"><span class="d">1200</span></div></div><div class="c" style="left:502px;top:756px;width:11px;height:17px"><div class="l" style="top:0.0px"><span class="d">70</span></div></div><div class="c" style="left:516px;top:756px;width:28px;height:17px"><div class="l" style="top:0.0px"><span class="d">52</span></div></div><div class="c" style="left:547px;top:756px;width:28px;height:17px"><div class="l" style="top:0.0px"><span class="d">8</span></div></div><div class="c" style="left:578px;top:756px;width:29px;height:17px"><div class="l" style="top:0.0px"><span class="d">3080</span></div></div><div class="c" style="left:610px;top:756px;width:29px;height:17px"><div class="l" style="top:0.0px"><span class="d">1130</span></div></div><div class="c" style="left:642px;top:756px;width:21px;height:17px"><div class="l" style="top:0.0px"><span class="d">110</span></div></div><div class="c" style="left:666px;top:756px;width:28px;height:17px"><div class="l" style="top:0.0px"><span class="d">930</span></div></div><div class="c" style="left:697px;top:756px;width:21px;height:17px"><div class="l" style="top:0.0px"><span class="d">740</span></div></div><div class="c" style="left:2px;top:776px;width:29px;height:17px"><div class="l" style="top:0.0px"><span class="d">1000</span></div></div><div class="c" style="left:34px;top:776px;width:21px;height:17px"><div class="l" style="top:0.0px"><span class="d">710</span></div></div><div class="c" style="left:58px;top:776px;width:22px;height:17px"><div class="l" style="top:0.0px"><span class="d">500</span></div></div><div class="c" style="left:83px;top:776px;width:28px;height:17px"><div class="l" style="top:0.0px"><span class="d">2210</span></div></div><div class="c" style="left:114px;top:776px;width:29px;height:17px"><div class="l" style="top:0.0px"><span class="d">3620</span></div></div><div class="c" style="left:146px;top:776px;width:28px;height:17px"><div class="l" style="top:0.0px"><span class="d">2040</span></div></div><div class="c" style="left:177px;top:776px;width:28px;height:17px"><div class="l" style="top:0.0px"><span class="d">1200</span></div></div><div class="c" style="left:208px;top:776px;width:29px;height:17px"><div class="l" style="top:0.0px"><span class="d">1000</span></div></div><div class="c" style="left:240px;top:776px;width:22px;height:17px"><div class="l" style="top:0.0px"><span class="d">610</span></div></div><div class="c" style="left:265px;top:776px;width:42px;height:17px"><div class="l" style="top:0.0px"><span class="d">130</span></div></div><div class="c" style="left:310px;top:776px;width:49px;height:17px"><div class="l" style="top:0.0px"><span class="d">250</span></div></div><div class="c" style="left:362px;top:776px;width:42px;height:17px"><div class="l" style="top:0.0px"><span class="d">1050</span></div></div><div class="c" style="left:407px;top:776px;width:29px;height:17px"><div class="l" style="top:0.0px"><span class="d">3170</span></div></div><div class="c" style="left:439px;top:776px;width:29px;height:17px"><div class="l" style="top:0.0px"><span class="d">2220</span></div></div><div class="c" style="left:471px;top:776px;width:28px;height:17px"><div class="l" style="top:0.0px"><span class="d">1320</span></div></div><div class="c" style="left:502px;top:776px;width:11px;height:17px"><div class="l" style="top:0.0px"><span class="d">75</span></div></div><div class="c" style="left:516px;top:776px;width:28px;height:17px"><div class="l" style="top:0.0px"><span class="d">52</span></div></div><div class="c" style="left:547px;top:776px;width:28px;height:17px"><div class="l" style="top:0.0px"><span class="d">8</span></div></div><div class="c" style="left:578px;top:776px;width:29px;height:17px"><div class="l" style="top:0.0px"><span class="d">3440</span></div></div><div class="c" style="left:610px;top:776px;width:29px;height:17px"><div class="l" style="top:0.0px"><span class="d">1220</span></div></div><div class="c" style="left:642px;top:776px;width:21px;height:17px"><div class="l" style="top:0.0px"><span class="d">135</span></div></div><div class="c" style="left:666px;top:776px;width:28px;height:17px"><div class="l" style="top:0.0px"><span class="d">1040</span></div></div><div class="c" style="left:697px;top:776px;width:21px;height:17px"><div class="l" style="top:0.0px"><span class="d">815</span></div></div></body></html>
